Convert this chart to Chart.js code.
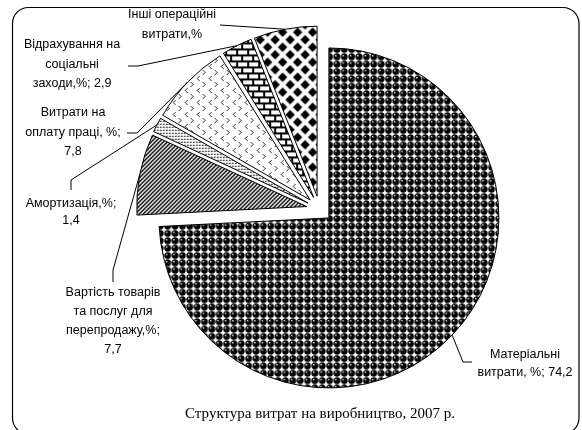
<!DOCTYPE html>
<html><head><meta charset="utf-8">
<script src="https://cdn.jsdelivr.net/npm/chart.js@4"></script>
<style>html,body{margin:0;padding:0;background:#fff}#wrap{width:582px;height:430px;position:relative}</style>
</head><body><div id="wrap"><canvas id="c" width="582" height="430"></canvas></div>
<script>
// ---- data ----
const categories = [
  'Матеріальні витрати',
  'Вартість товарів та послуг для перепродажу',
  'Амортизація',
  'Витрати на оплату праці',
  'Відрахування на соціальні заходи',
  'Інші операційні витрати'
];
const shares = [74.2, 7.7, 1.4, 7.8, 2.9, 6.0];
// label text lines; {v} is replaced by the value
const labelLines = [
  ['Матеріальні', 'витрати, %; {v}'],
  ['Вартість товарів', 'та послуг для', 'перепродажу,%;', '{v}'],
  ['Амортизація,%;', '{v}'],
  ['Витрати на', 'оплату праці, %;', '{v}'],
  ['Відрахування на', 'соціальні', 'заходи,%; {v}'],
  ['Інші операційні', 'витрати,%']
];
const titleText = 'Структура витрат на виробництво, 2007 р.';

// ---- layout / style ----
const EXPLODE = 13;
const labelLayout = [
  {x: 525, y: 355, lh: 18, path: [[463, 362], [472, 362]]},
  {x: 113, y: 293, lh: 19, path: [[113, 270], [113, 282]]},
  {x: 71,  y: 204, lh: 17, path: [[71, 180], [71, 190]]},
  {x: 73,  y: 113, lh: 19.5, path: [[137, 133], [127, 133]]},
  {x: 72,  y: 45,  lh: 19.5, path: [[138, 66], [128, 66]]},
  {x: 172, y: 15,  lh: 20, path: [[220, 25]]}
];

function tile(w, h, draw, scale) {
  const c = document.createElement('canvas');
  c.width = w; c.height = h;
  const g = c.getContext('2d');
  g.fillStyle = '#fff'; g.fillRect(0, 0, w, h);
  draw(g);
  const p = document.createElement('canvas').getContext('2d').createPattern(c, 'repeat');
  if (scale && p.setTransform) p.setTransform(new DOMMatrix().scale(scale));
  return p;
}
const patterns = [
  // spheres
  tile(8, 8, g => {
    g.fillStyle = '#000';
    g.beginPath(); g.arc(4, 4, 3.7, 0, Math.PI * 2); g.fill();
    g.fillStyle = '#8a8a8a';
    g.beginPath(); g.arc(2.9, 2.8, 1.1, 0, Math.PI * 2); g.fill();
    g.fillStyle = '#e0e0e0';
    g.fillRect(2, 2, 1, 1);
  }, 0.92),
  // wide upward diagonal
  tile(4, 4, g => {
    g.fillStyle = '#000';
    for (let i = 0; i < 4; i++) for (let t = 0; t < 2; t++) g.fillRect(i, (3 - i + t) % 4, 1, 1);
  }),
  // fine dots
  tile(3, 3, g => {
    g.fillStyle = '#000'; g.fillRect(1, 1, 1, 1);
    g.fillStyle = '#999'; g.fillRect(0, 1, 1, 1); g.fillRect(1, 0, 1, 1);
  }),
  // chevrons
  tile(12, 12, g => {
    g.fillStyle = '#333';
    [[4, 1], [3, 2], [2, 3], [3, 4], [4, 5]].forEach(([x, y]) => g.fillRect(x, y, 1, 1));
    [[8, 7], [9, 8], [10, 9], [9, 10], [8, 11]].forEach(([x, y]) => g.fillRect(x, y, 1, 1));
  }),
  // bricks
  tile(11, 12, g => {
    g.fillStyle = '#000';
    g.fillRect(0, 0, 11, 2); g.fillRect(0, 6, 11, 2);
    g.fillRect(0, 2, 2, 4); g.fillRect(5, 8, 2, 4);
  }),
  // diamonds
  tile(15, 15, g => {
    g.fillStyle = '#000';
    const h = 4.7;
    [[7.5, 7.5], [0, 0], [15, 0], [0, 15], [15, 15]].forEach(([x, y]) => {
      g.beginPath(); g.moveTo(x, y - h); g.lineTo(x + h, y); g.lineTo(x, y + h); g.lineTo(x - h, y); g.closePath(); g.fill();
    });
  })
];

function fmt(v) { return v.toFixed(1).replace('.', ','); }

const explodePlugin = {
  id: 'explode',
  beforeDatasetDraw(chart, args) {
    const ctx = chart.ctx;
    args.meta.data.forEach(arc => {
      const mid = (arc.startAngle + arc.endAngle) / 2;
      ctx.save();
      ctx.translate(Math.cos(mid) * EXPLODE, Math.sin(mid) * EXPLODE);
      arc.draw(ctx, chart.chartArea);
      ctx.restore();
    });
    return false;
  }
};

const framePlugin = {
  id: 'frame',
  beforeDraw(chart) {
    const ctx = chart.ctx;
    ctx.save();
    ctx.fillStyle = '#fff';
    ctx.fillRect(0, 0, chart.width, chart.height);
    ctx.strokeStyle = '#000';
    ctx.lineWidth = 1.2;
    ctx.beginPath();
    ctx.roundRect(12.5, 7.5, 566.5, 426.5, 16);
    ctx.stroke();
    ctx.restore();
  }
};

const labelPlugin = {
  id: 'labels',
  afterDraw(chart) {
    const ctx = chart.ctx;
    const meta = chart.getDatasetMeta(0);
    ctx.save();
    ctx.strokeStyle = '#000';
    ctx.lineWidth = 1;
    meta.data.forEach((arc, i) => {
      const L = labelLayout[i];
      const mid = (arc.startAngle + arc.endAngle) / 2;
      const r = arc.outerRadius + EXPLODE;
      const px = arc.x + Math.cos(mid) * r, py = arc.y + Math.sin(mid) * r;
      ctx.beginPath();
      ctx.moveTo(px, py);
      L.path.forEach(([x, y]) => ctx.lineTo(x, y));
      ctx.stroke();
      ctx.fillStyle = '#000';
      ctx.font = '12.5px "Liberation Sans", Arial, sans-serif';
      ctx.textAlign = 'center';
      ctx.textBaseline = 'middle';
      labelLines[i].forEach((t, k) => {
        ctx.fillText(t.replace('{v}', fmt(shares[i])), L.x, L.y + k * L.lh);
      });
    });
    ctx.font = '15px "Liberation Serif", "Times New Roman", serif';
    ctx.textAlign = 'center';
    ctx.textBaseline = 'middle';
    ctx.fillText(titleText, 320, 414);
    ctx.restore();
  }
};

new Chart(document.getElementById('c'), {
  type: 'pie',
  data: {
    labels: categories,
    datasets: [{
      data: shares,
      backgroundColor: patterns,
      borderColor: '#000',
      borderWidth: 1,
      borderJoinStyle: 'miter',
      offset: 0,
      hoverOffset: 0
    }]
  },
  options: {
    responsive: false,
    animation: false,
    radius: 170,
    rotation: 0,
    layout: {padding: {left: 57, right: 0, top: 0, bottom: 12}},
    events: [],
    plugins: {legend: {display: false}, tooltip: {enabled: false}, title: {display: false}}
  },
  plugins: [framePlugin, explodePlugin, labelPlugin]
});
</script>
</body></html>
